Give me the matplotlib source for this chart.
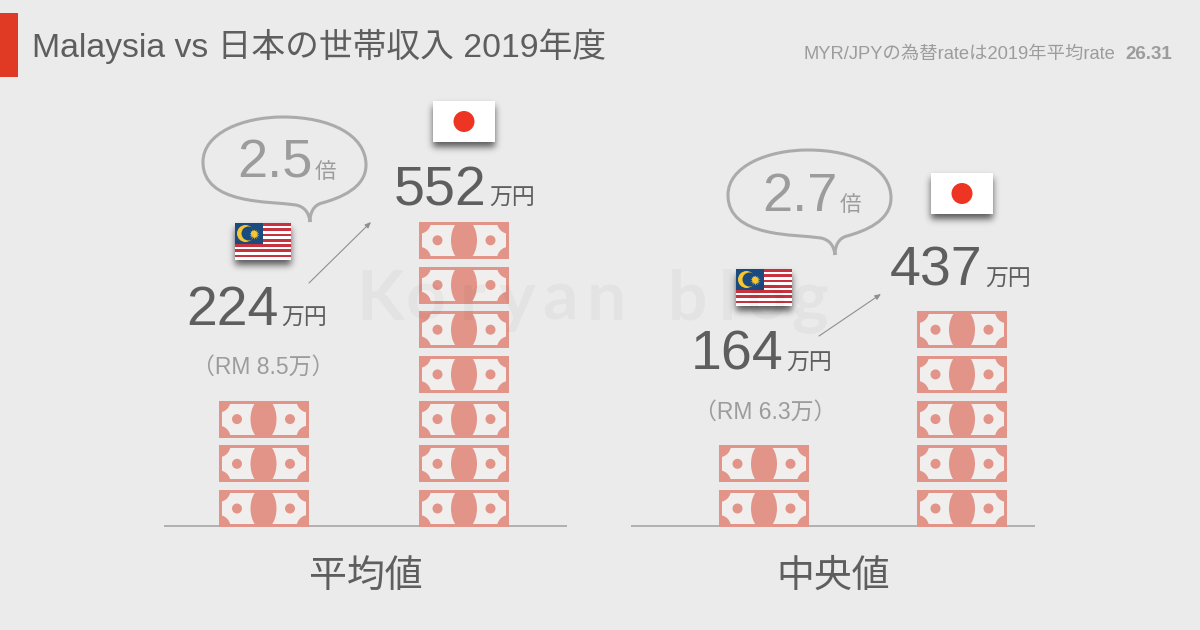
import math
import matplotlib
matplotlib.use('Agg')
import matplotlib.pyplot as plt
import numpy as np
from matplotlib.patches import Rectangle, Circle, Ellipse, PathPatch
from matplotlib.path import Path

plt.rcParams['font.family'] = ['Liberation Sans', 'Noto Sans CJK JP', 'DejaVu Sans']

# values
groups = ['平均値', '中央値']
my_income = [224, 164]
jp_income = [552, 437]
my_rm = [8.5, 6.3]
ratios = [2.5, 2.7]
my_bills = [3, 2]
jp_bills = [7, 5]
mark_letters = ['K', 'o', 'r', 'y', 'a', 'n', 'b', 'l', 'o', 'g']
mark_x = [380, 426, 473, 517, 560, 606, 687, 727, 767, 810]

BG = '#EBEBEB'
ROSE = '#E39488'
DARK = '#5E5E5E'
GREY = '#9C9C9C'
PITCH = 44.7
BASE = 526

fig = plt.figure(figsize=(12, 6.3), dpi=100, facecolor=BG)
ax = fig.add_axes([0, 0, 1, 1])


def bill(x, bottom):
    top = bottom - 37
    box = Rectangle((x, top), 90, 37, fc=ROSE, ec='none', zorder=5)
    ax.add_patch(box)
    ax.add_patch(Rectangle((x + 3, top + 3), 84, 31, fc='#F0EFEE', ec='none', zorder=6))
    for cx in (x, x + 90):
        for cy in (top, bottom):
            c = Circle((cx, cy), 12, fc=ROSE, ec='none', zorder=7)
            ax.add_patch(c)
            c.set_clip_path(box)
    e = Ellipse((x + 45, top + 18.5), 26, 42, fc=ROSE, ec='none', zorder=7)
    ax.add_patch(e)
    e.set_clip_path(box)
    ax.add_patch(Circle((x + 18.5, top + 18.5), 5, fc=ROSE, ec='none', zorder=7))
    ax.add_patch(Circle((x + 71.5, top + 18.5), 5, fc=ROSE, ec='none', zorder=7))


def stack(x, n):
    for i in range(n):
        bill(x, BASE + 1 - i * PITCH)


erf = np.vectorize(math.erf)


def shadow(x, y, w, h):
    # soft drop shadow, offset downward
    pad = 16
    xs = np.arange(x - pad, x + w + pad) + 0.5
    ys = np.arange(y - pad, y + h + pad) + 0.5
    s = 3.5 * math.sqrt(2)
    px = 0.5 * (erf((xs - x) / s) - erf((xs - x - w) / s))
    py = 0.5 * (erf((ys - y - 5) / s) - erf((ys - y - 5 - h) / s))
    img = np.zeros((len(ys), len(xs), 4))
    img[..., 3] = 0.62 * np.outer(py, px)
    ax.imshow(img, extent=(x - pad, x + w + pad, y + h + pad, y - pad), aspect='auto',
              interpolation='bilinear', zorder=3)


def flag_jp(x, y):
    shadow(x, y, 62, 41)
    ax.add_patch(Rectangle((x, y), 62, 41, fc='white', ec='none', zorder=4))
    ax.add_patch(Circle((x + 31, y + 20.5), 10.5, fc='#EE3524', ec='none', zorder=5))


def flag_my(x, y):
    w, h = 56, 37
    shadow(x, y, w, h)
    for i in range(14):
        col = '#C8313E' if i % 2 == 0 else 'white'
        ax.add_patch(Rectangle((x, y + i * h / 14), w, h / 14, fc=col, ec='none', zorder=4))
    ax.add_patch(Rectangle((x, y), w * 0.5, h * 8 / 14, fc='#1B4A7F', ec='none', zorder=5))
    ax.add_patch(Circle((x + 10.5, y + 10.5), 8.5, fc='#F6C530', ec='none', zorder=6))
    ax.add_patch(Circle((x + 13.5, y + 10.5), 7, fc='#1B4A7F', ec='none', zorder=6))
    ax.add_patch(Circle((x + 19, y + 10.5), 3, fc='#F6C530', ec='none', zorder=7))
    ax.plot([x + 19], [y + 10.5], marker=(14, 1, 0), ms=7.5, color='#F6C530', mew=0, zorder=7)


def bubble(dx, dy):
    pts = [(310, 222),
           (309, 213), (305, 207), (296, 205),
           (270, 201), (203, 205), (203, 162),
           (203, 133), (243, 117), (283, 117),
           (330, 117), (366, 135), (366, 165),
           (366, 188), (340, 198), (322, 203),
           (314, 205), (310, 212), (310, 222)]
    verts = [(x + dx, y + dy) for x, y in pts]
    codes = [Path.MOVETO] + [Path.CURVE4] * (len(verts) - 1)
    ax.add_patch(PathPatch(Path(verts, codes), fc='none', ec='#ABABAB', lw=2.2, zorder=4))


# watermark sits faintly over everything
for ch, x in zip(mark_letters, mark_x):
    ax.text(x, 320, ch, fontsize=50, fontweight='bold', color='black', alpha=0.03,
            ha='center', family=['Lato'], zorder=9)

# header
ax.add_patch(Rectangle((0, 13), 18, 64, fc='#E03A25', ec='none'))
ax.text(32, 57, 'Malaysia vs 日本の世帯収入 2019年度', fontsize=24.3, color=DARK)
ax.text(1115, 59, 'MYR/JPYの為替rateは2019年平均rate', fontsize=13.2, color=GREY, ha='right')
ax.text(1172, 59, '26.31', fontsize=13.5, color=GREY, ha='right', fontweight='bold')

# panel layout: baseline, stacks, labels
bx = [(164, 567), (631, 1035)]
my_x = [218.5, 719]
jp_x = [419, 917]
my_flag = [(235, 223), (736, 269)]
jp_flag = [(433, 101), (931, 173)]
my_txt = [(186, 325), (691, 370)]
jp_txt = [(394, 205), (890, 286)]
rm_txt = [(263, 367), (765, 412)]
bub = [(0, 0), (525, 33)]
arrows = [((309, 283), (371, 222)), ((819, 336), (881, 294))]

for i, g in enumerate(groups):
    ax.plot(bx[i], [BASE, BASE], color='#B0B0B0', lw=1.4, zorder=2, solid_capstyle='butt')
    stack(my_x[i], my_bills[i])
    stack(jp_x[i], jp_bills[i])
    flag_my(*my_flag[i])
    flag_jp(*jp_flag[i])
    bubble(*bub[i])
    for (x, y), v in ((my_txt[i], my_income[i]), (jp_txt[i], jp_income[i])):
        ax.text(x, y, str(v), fontsize=40, color=DARK, zorder=8)
        ax.text(x + 95, y, '万円', fontsize=16.5, color=DARK, zorder=8)
    ax.text(rm_txt[i][0], rm_txt[i][1], f'（RM {my_rm[i]}万）', fontsize=16.5, color=GREY,
            ha='center', va='center', zorder=8)
    bxx, byy = bub[i]
    ax.text(237 + bxx, 178 + byy, str(ratios[i]), fontsize=39, color=GREY, zorder=8)
    ax.text(315 + bxx, 178 + byy, '倍', fontsize=15.5, color=GREY, zorder=8)
    ax.annotate('', xy=arrows[i][1], xytext=arrows[i][0],
                arrowprops=dict(arrowstyle='-|>,head_width=0.15,head_length=0.35', color='#8F8F8F', lw=0.8,
                                shrinkA=0, shrinkB=0), zorder=8)
    ax.text((bx[i][0] + bx[i][1]) / 2, 577, g, fontsize=27.3, color=DARK, ha='center', va='center')

ax.set_xlim(0, 1200)
ax.set_ylim(630, 0)
ax.axis('off')

fig.savefig('out.png', dpi=100, facecolor=BG)
